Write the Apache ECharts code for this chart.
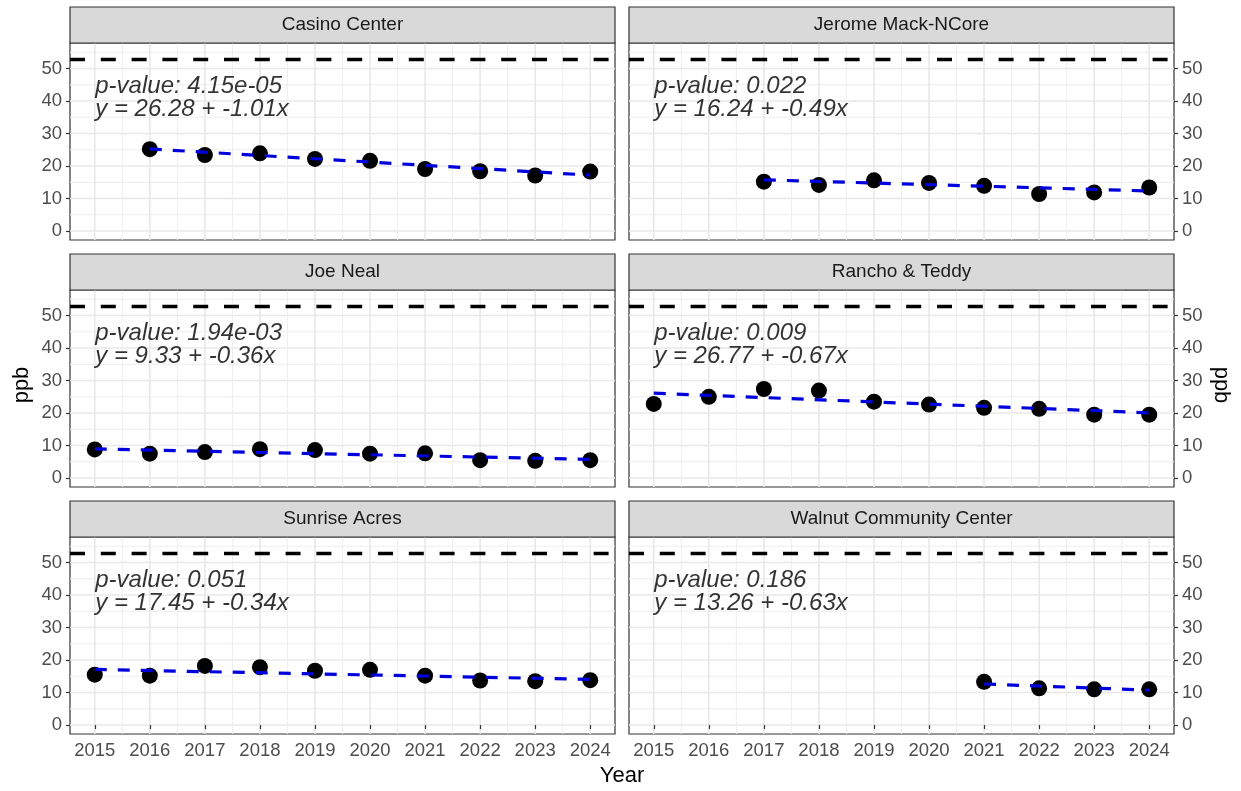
<!DOCTYPE html>
<html>
<head>
<meta charset="utf-8">
<title>ppb by site</title>
<script src="https://cdn.jsdelivr.net/npm/echarts@6.0.0/dist/echarts.min.js"></script>
<style>
  html, body { margin: 0; padding: 0; background: #fff; }
  #main { width: 1241px; height: 791px; }
</style>
</head>
<body>
<div id="main"></div>
<script>
// data
const years = [2015, 2016, 2017, 2018, 2019, 2020, 2021, 2022, 2023, 2024]
const sites = ['Casino Center', 'Jerome Mack-NCore', 'Joe Neal', 'Rancho & Teddy', 'Sunrise Acres', 'Walnut Community Center']
const casinoCenter = [null, 25.2, 23.4, 23.9, 22.2, 21.6, 19.1, 18.4, 17.1, 18.3]
const jeromeMack = [null, null, 15.2, 14.2, 15.6, 14.8, 13.9, 11.4, 11.9, 13.4]
const joeNeal = [8.8, 7.5, 8.0, 8.9, 8.6, 7.5, 7.6, 5.5, 5.3, 5.5]
const ranchoTeddy = [22.8, 25.0, 27.4, 26.9, 23.5, 22.6, 21.6, 21.3, 19.5, 19.5]
const sunriseAcres = [15.5, 15.2, 18.2, 17.8, 16.7, 17.0, 15.2, 13.7, 13.5, 13.8]
const walnut = [null, null, null, null, null, null, 13.3, 11.3, 11.0, 11.0]
const values = [casinoCenter, jeromeMack, joeNeal, ranchoTeddy, sunriseAcres, walnut]

// fitted trend: first / last year and value at each end
const trendYears = [[2016, 2024], [2017, 2024], [2015, 2024], [2015, 2024], [2015, 2024], [2021, 2024]]
const trendValues = [[25.27, 17.19], [15.75, 12.32], [8.97, 5.73], [26.10, 20.07], [17.11, 14.05], [12.63, 10.74]]
const pValues = ['4.15e-05', '0.022', '1.94e-03', '0.009', '0.051', '0.186']
const fits = ['y = 26.28 + -1.01x', 'y = 16.24 + -0.49x', 'y = 9.33 + -0.36x', 'y = 26.77 + -0.67x', 'y = 17.45 + -0.34x', 'y = 13.26 + -0.63x']
const threshold = 53
const yTicks = [0, 10, 20, 30, 40, 50]
const yMinor = [5, 15, 25, 35, 45, 55]
const xMinor = [2015.5, 2016.5, 2017.5, 2018.5, 2019.5, 2020.5, 2021.5, 2022.5, 2023.5]

const FONT = '"Liberation Sans", Arial, sans-serif'
const colLeft = [70, 629]
const rowTop = [43, 290, 537]
const panelW = 545
const panelH = 197
const stripH = 36
const X_MIN = 2014.55
const X_MAX = 2024.45
const Y_MIN = -2.75
const Y_MAX = 57.85

const grids = []
const xAxes = []
const yAxes = []
const series = []
const graphics = []

// grid lines list for custom series: [direction, value, isMinor]
const gridItems = []
yTicks.forEach(v => gridItems.push([0, v, 0]))
yMinor.forEach(v => gridItems.push([0, v, 1]))
years.forEach(v => gridItems.push([1, v, 0]))
xMinor.forEach(v => gridItems.push([1, v, 1]))

sites.forEach((site, i) => {
  const row = Math.floor(i / 2)
  const col = i % 2
  const left = colLeft[col]
  const top = rowTop[row]
  const bottomRow = row === 2

  grids.push({
    left: left,
    top: top,
    width: panelW,
    height: panelH,
    show: true,
    backgroundColor: '#fff',
    borderColor: '#333333',
    borderWidth: 1.2
  })
  // only the bottom row carries year ticks and labels
  xAxes.push(bottomRow ? {
    type: 'value',
    gridIndex: i,
    min: X_MIN,
    max: X_MAX,
    splitLine: { show: false },
    axisLine: { show: false },
    axisTick: { show: true, customValues: years, length: 4, lineStyle: { color: '#333333', width: 1.2 } },
    axisLabel: {
      customValues: years,
      formatter: v => String(v),
      color: '#4D4D4D',
      fontSize: 18.5,
      fontFamily: FONT,
      margin: 7
    }
  } : {
    type: 'value',
    gridIndex: i,
    min: X_MIN,
    max: X_MAX,
    splitLine: { show: false },
    axisLine: { show: false },
    axisTick: { show: false },
    axisLabel: { show: false }
  })
  yAxes.push({
    type: 'value',
    gridIndex: i,
    min: Y_MIN,
    max: Y_MAX,
    position: col === 0 ? 'left' : 'right',
    splitLine: { show: false },
    axisLine: { show: false },
    axisTick: { show: true, customValues: yTicks, length: 4, lineStyle: { color: '#333333', width: 1.2 } },
    axisLabel: {
      customValues: yTicks,
      color: '#4D4D4D',
      fontSize: 18.5,
      fontFamily: FONT,
      margin: 8
    }
  })

  // panel grid lines
  series.push({
    type: 'custom',
    xAxisIndex: i,
    yAxisIndex: i,
    silent: true,
    z: 0,
    clip: false,
    data: gridItems,
    renderItem: (params, api) => {
      const cs = params.coordSys
      const dir = api.value(0)
      const v = api.value(1)
      const minor = api.value(2)
      let shape
      if (dir === 0) {
        const p = api.coord([2020, v])
        shape = { x1: cs.x, y1: p[1], x2: cs.x + cs.width, y2: p[1] }
      } else {
        const p = api.coord([v, 20])
        shape = { x1: p[0], y1: cs.y, x2: p[0], y2: cs.y + cs.height }
      }
      return {
        type: 'line',
        shape: shape,
        style: { stroke: minor ? '#EEEEEE' : '#E8E8E8', lineWidth: minor ? 1 : 1.6 }
      }
    }
  })

  // points
  series.push({
    type: 'scatter',
    xAxisIndex: i,
    yAxisIndex: i,
    symbolSize: 16,
    itemStyle: { color: '#000', opacity: 1 },
    silent: true,
    z: 2,
    data: years.map((y, k) => [y, values[i][k]]).filter(d => d[1] !== null),
    markLine: {
      silent: true,
      symbol: 'none',
      label: { show: false },
      lineStyle: { color: '#000', width: 3.3, type: [15, 15.8] },
      data: [{ yAxis: threshold }]
    }
  })

  // fitted trend
  series.push({
    type: 'line',
    xAxisIndex: i,
    yAxisIndex: i,
    symbol: 'none',
    silent: true,
    z: 3,
    lineStyle: { color: '#0000DD', width: 3.2, type: [12, 11] },
    data: trendYears[i].map((y, k) => [y, trendValues[i][k]])
  })

  // p-value / equation text
  series.push({
    type: 'scatter',
    xAxisIndex: i,
    yAxisIndex: i,
    symbolSize: 1,
    silent: true,
    z: 4,
    itemStyle: { color: 'rgba(0,0,0,0)' },
    label: {
      show: true,
      position: 'right',
      distance: 0,
      formatter: 'p-value: ' + pValues[i] + '\n' + fits[i],
      fontStyle: 'italic',
      fontSize: 24,
      lineHeight: 23,
      color: '#000',
      fontFamily: FONT
    },
    data: [[2015, 41.1]]
  })

  // facet strip
  graphics.push({
    type: 'rect',
    shape: { x: left, y: top - stripH, width: panelW, height: stripH },
    style: { fill: '#D9D9D9', stroke: '#333333', lineWidth: 1.2 },
    z: 10
  })
  graphics.push({
    type: 'text',
    x: left + panelW / 2,
    y: top - stripH / 2,
    style: {
      text: site,
      fill: '#1A1A1A',
      font: '19px ' + FONT,
      textAlign: 'center',
      textVerticalAlign: 'middle'
    },
    z: 11
  })
})

// axis titles
graphics.push({
  type: 'text',
  x: 22,
  y: 385,
  rotation: Math.PI / 2,
  style: { text: 'ppb', fill: '#000', font: '22px ' + FONT, textAlign: 'center', textVerticalAlign: 'middle' }
})
graphics.push({
  type: 'text',
  x: 1221,
  y: 385,
  rotation: -Math.PI / 2,
  style: { text: 'ppb', fill: '#000', font: '22px ' + FONT, textAlign: 'center', textVerticalAlign: 'middle' }
})
graphics.push({
  type: 'text',
  x: 622,
  y: 776,
  style: { text: 'Year', fill: '#000', font: '22px ' + FONT, textAlign: 'center', textVerticalAlign: 'middle' }
})

const chart = echarts.init(document.getElementById('main'), null, { renderer: 'canvas' })
chart.setOption({
  animation: false,
  backgroundColor: '#fff',
  grid: grids,
  xAxis: xAxes,
  yAxis: yAxes,
  series: series,
  graphic: graphics
})
</script>
</body>
</html>
